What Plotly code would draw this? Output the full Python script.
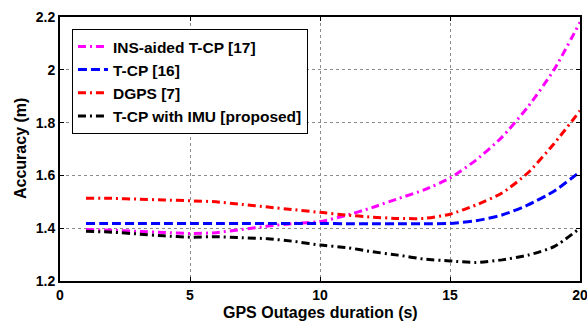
import plotly.graph_objects as go

x = list(range(1, 21))
ins_aided = [1.395, 1.392, 1.388, 1.384, 1.380, 1.383, 1.395, 1.408, 1.418, 1.425,
             1.448, 1.478, 1.512, 1.545, 1.590, 1.658, 1.745, 1.860, 2.000, 2.180]
tcp = [1.418, 1.418, 1.418, 1.418, 1.418, 1.418, 1.418, 1.418, 1.418, 1.418,
       1.417, 1.417, 1.417, 1.417, 1.418, 1.428, 1.450, 1.488, 1.540, 1.614]
dgps = [1.513, 1.513, 1.510, 1.507, 1.504, 1.500, 1.490, 1.480, 1.470, 1.460,
        1.450, 1.442, 1.437, 1.437, 1.453, 1.488, 1.533, 1.610, 1.720, 1.845]
tcp_imu = [1.388, 1.385, 1.378, 1.371, 1.366, 1.368, 1.364, 1.360, 1.350, 1.336,
           1.327, 1.311, 1.298, 1.283, 1.276, 1.270, 1.280, 1.298, 1.330, 1.400]

x_ticks = [0, 5, 10, 15, 20]
y_ticks = [1.2, 1.4, 1.6, 1.8, 2.0, 2.2]
y_ticktext = ["1.2", "1.4", "1.6", "1.8", "2", "2.2"]

names = ["INS-aided T-CP [17]", "T-CP [16]", "DGPS [7]", "T-CP with IMU [proposed]"]
colors = ["#FF00FF", "#0000FF", "#FF0000", "#000000"]
dashes = ["8px,4px,2px,4px", "9px,4px", "8px,4px,2px,4px", "8px,4px,2px,4px"]
series = [ins_aided, tcp, dgps, tcp_imu]

FONT = "Liberation Sans, Arial, sans-serif"

fig = go.Figure()
for i, (n, c, d, s) in enumerate(zip(names, colors, dashes, series)):
    fig.add_trace(go.Scatter(x=x, y=s, mode="lines", name="<b>" + n + "</b>",
                             legendgroup="g%d" % i,
                             line=dict(color=c, width=3, dash=d, shape="spline", smoothing=0.6)))

axis_common = dict(ticks="inside", ticklen=4, tickcolor="black",
                   showline=True, linecolor="black", linewidth=2, mirror="ticks",
                   showgrid=True, gridcolor="#8c8c8c", griddash="dot", gridwidth=1,
                   zeroline=False, automargin=False, ticklabeloverflow="allow",
                   tickfont=dict(family=FONT, size=14, color="black"))

fig.update_layout(
    width=587, height=322,
    margin=dict(l=60, r=7, t=17, b=41),
    paper_bgcolor="white", plot_bgcolor="white",
    font=dict(family=FONT, size=13, color="black"),
    legend=dict(x=0.023, y=0.955, xanchor="left", yanchor="top",
                bordercolor="black", borderwidth=1, bgcolor="white",
                font=dict(family=FONT, size=15.5, color="black"),
                itemwidth=30, tracegroupgap=0),
    xaxis=dict(range=[0, 20], tickvals=x_ticks,
               ticktext=["<b>%d</b>" % v for v in x_ticks], **axis_common),
    yaxis=dict(range=[1.2, 2.2], tickvals=y_ticks,
               ticktext=["<b>%s</b>" % t for t in y_ticktext], **axis_common),
    annotations=[
        dict(text="<b>GPS Outages duration (s)</b>", xref="paper", yref="paper",
             x=0.5, y=0, yshift=-31, xanchor="center", yanchor="middle",
             showarrow=False, font=dict(family=FONT, size=16, color="black")),
        dict(text="<b>Accuracy (m)</b>", xref="paper", yref="paper",
             x=0, y=0.5, xshift=-40, xanchor="center", yanchor="middle", textangle=-90,
             showarrow=False, font=dict(family=FONT, size=16, color="black")),
    ],
)

fig.write_html("out.html", config={"displayModeBar": False},
               post_script="document.body.style.margin='0';")
